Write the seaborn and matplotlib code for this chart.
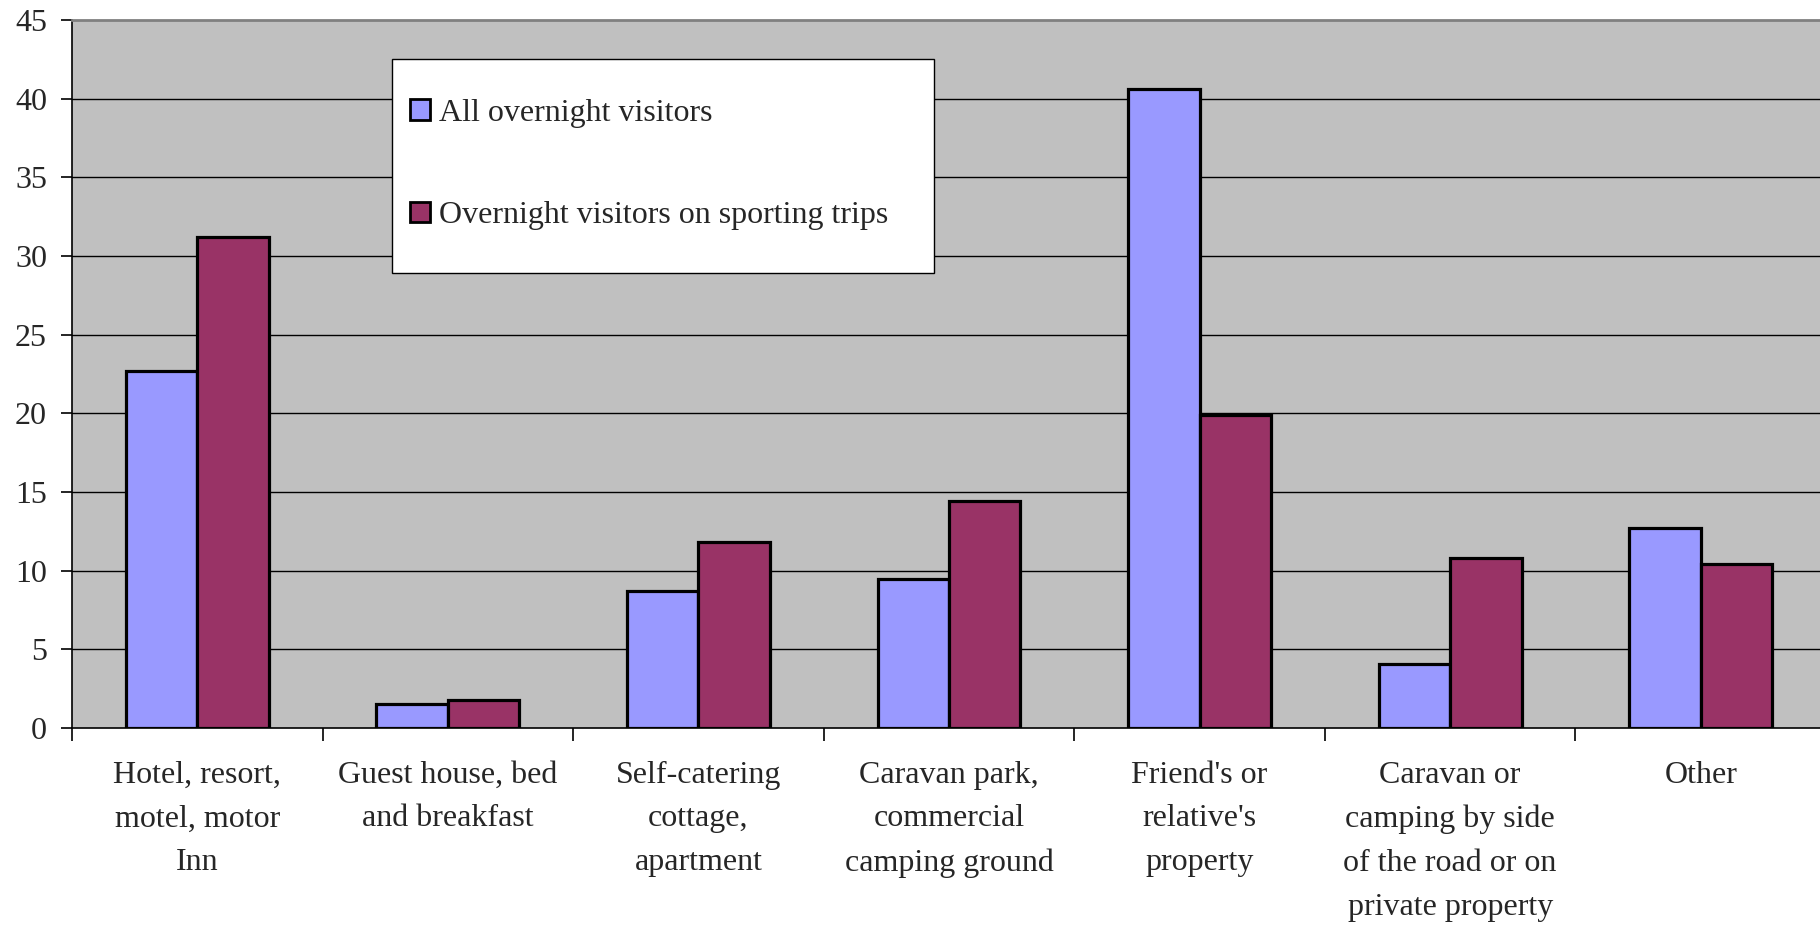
import matplotlib
matplotlib.use("Agg")
import matplotlib.pyplot as plt
import seaborn as sns
import pandas as pd
from matplotlib.patches import Rectangle

categories = [
    "Hotel, resort,\nmotel, motor\nInn",
    "Guest house, bed\nand breakfast",
    "Self-catering\ncottage,\napartment",
    "Caravan park,\ncommercial\ncamping ground",
    "Friend's or\nrelative's\nproperty",
    "Caravan or\ncamping by side\nof the road or on\nprivate property",
    "Other",
]
series_names = ["All overnight visitors", "Overnight visitors on sporting trips"]
all_visitors = [22.7, 1.55, 8.7, 9.5, 40.6, 4.05, 12.7]
sporting_visitors = [31.2, 1.75, 11.8, 14.4, 19.9, 10.8, 10.4]
y_ticks = [0, 5, 10, 15, 20, 25, 30, 35, 40, 45]

df = pd.DataFrame({
    "category": categories * 2,
    "series": [series_names[0]] * len(categories) + [series_names[1]] * len(categories),
    "value": all_visitors + sporting_visitors,
})

sns.set_theme(style="white")
plt.rcParams["font.family"] = ["Liberation Serif", "DejaVu Serif"]

fig = plt.figure(figsize=(18.2, 9.26), dpi=100)
L, R, T, B = 72, 1826, 20, 728
W, H = 1820, 926
ax = fig.add_axes([L / W, 1 - B / H, (R - L) / W, (B - T) / H])
ax.set_facecolor("#C0C0C0")

sns.barplot(data=df, x="category", y="value", hue="series", order=categories,
            hue_order=series_names, palette=["#9999FF", "#993366"],
            width=0.57, edgecolor="black", linewidth=2.3, ax=ax, zorder=3,
            errorbar=None, saturation=1)

ax.set_xlim(-0.5, len(categories) - 0.5)
ax.set_ylim(0, 45)
ax.set_yticks(y_ticks)
ax.set_yticklabels([str(t) for t in y_ticks])
ax.set_xlabel("")
ax.set_ylabel("")

for yv in y_ticks[1:-1]:
    ax.axhline(yv, color="black", linewidth=1.0, zorder=1)

for s in ["left", "bottom"]:
    ax.spines[s].set_color("black")
    ax.spines[s].set_linewidth(1.2)
ax.spines["top"].set_color("#808080")
ax.spines["top"].set_linewidth(2.0)
ax.spines["right"].set_visible(False)

ax.tick_params(axis="y", which="major", direction="out", length=8, width=1.2,
               color="black", pad=10, labelsize=23, left=True)
ax.tick_params(axis="x", which="major", length=0, pad=23.5, labelsize=23)
ax.set_xticks([i + 0.5 for i in range(-1, len(categories))], minor=True)
ax.tick_params(axis="x", which="minor", direction="out", length=9, width=1.2,
               color="black", bottom=True)
for lbl in ax.get_xticklabels():
    lbl.set_linespacing(1.67)
    lbl.set_verticalalignment("top")

handles, labels = ax.get_legend_handles_labels()
if ax.get_legend() is not None:
    ax.get_legend().remove()

box = Rectangle((0.1824, 0.6427), 0.309, 0.3023, transform=ax.transAxes,
                facecolor="white", edgecolor="black", linewidth=1.0, zorder=5)
ax.add_patch(box)
leg = ax.legend(handles, labels, loc="center left", bbox_to_anchor=(0.1927, 0.796),
                frameon=False, borderpad=0, borderaxespad=0, fontsize=23,
                handlelength=0.62, handleheight=0.62, handletextpad=0.3,
                labelspacing=2.3)
leg.set_zorder(6)
for h in leg.legend_handles:
    h.set_edgecolor("black")
    h.set_linewidth(2.0)

fig.savefig("out.png", dpi=100)
